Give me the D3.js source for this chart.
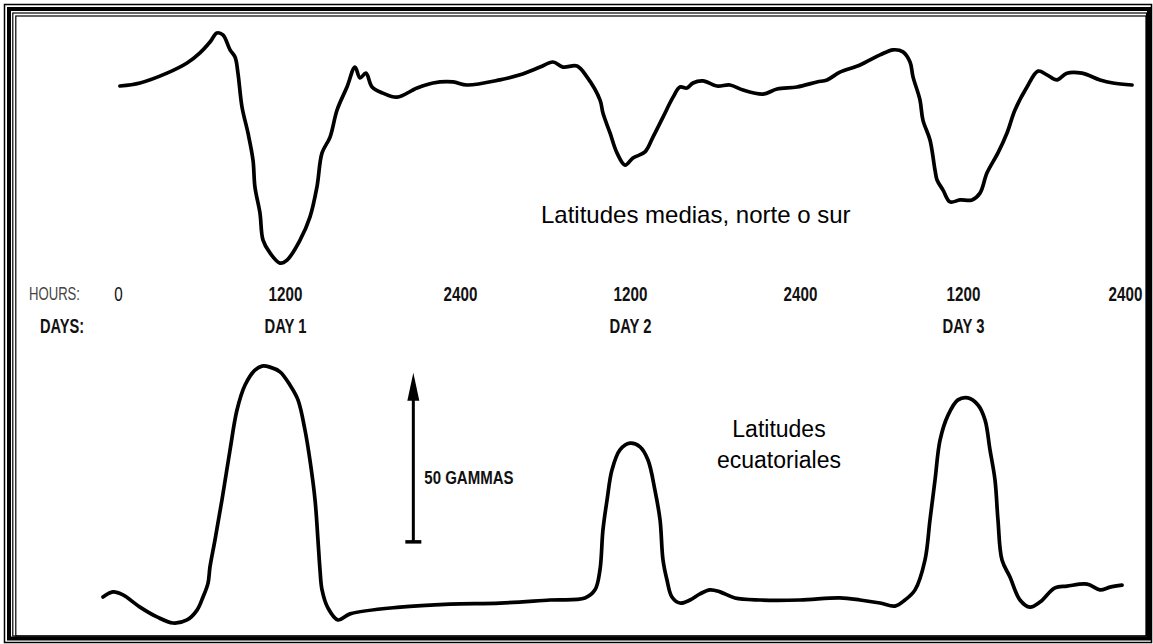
<!DOCTYPE html>
<html>
<head>
<meta charset="utf-8">
<script src="https://cdn.jsdelivr.net/npm/d3@7"></script>
<style>
  html, body { margin: 0; padding: 0; background: #fff; }
  svg { display: block; }
  text { font-family: "Liberation Sans", Arial, sans-serif; }
</style>
</head>
<body>
<svg id="chart" width="1153" height="644"></svg>
<script>
// Time axis: hours since the start of the record, labelled as clock time
const hourTicks = [0, 12, 24, 36, 48, 60, 72];
const hourLabels = ["0", "1200", "2400", "1200", "2400", "1200", "2400"];
const dayHours = [12, 36, 60];
const dayLabels = ["DAY 1", "DAY 2", "DAY 3"];

// Mid-latitude record (north or south): hours, deviation in gammas
const midLatHours = [0.14, 1.58, 3.52, 4.96, 5.89, 6.61, 7.11, 7.54, 8.05, 8.41, 8.62, 8.91, 9.34, 9.70, 9.84,
  10.20, 10.42, 10.92, 11.64, 12.14, 13.03, 13.71, 14.19, 14.54, 15.09, 15.57, 16.25, 16.80, 17.14, 17.55,
  17.97, 18.72, 19.68, 21.05, 22.15, 23.52, 24.49, 26.82, 28.24, 29.65, 30.56, 31.27, 32.26, 32.96, 33.88,
  34.09, 34.59, 35.08, 35.65, 36.21, 37.06, 37.62, 38.33, 39.04, 39.53, 40.02, 40.45, 41.15, 42.14, 43.06,
  43.98, 45.39, 46.38, 47.79, 49.25, 49.99, 50.94, 52.42, 53.89, 54.85, 55.58, 56.10, 56.32, 56.83, 57.05,
  57.57, 57.94, 58.09, 58.53, 59.04, 59.78, 60.67, 61.26, 61.78, 62.59, 63.26, 63.85, 64.74, 65.56, 66.22,
  66.96, 67.70, 68.81, 70.15, 71.11, 72.52];
const midLatGammas = [0, 0.9, 3.8, 6.8, 9.8, 13.0, 15.7, 15.1, 10.7, 8.6, 3.8, -6.2, -13.9, -21.9, -29.9,
  -37.6, -45.6, -49.4, -52.4, -51.5, -45.6, -38.8, -29.9, -19.8, -15.1, -7.1, -0.3, 5.6, 2.4, 3.8,
  -0.3, -2.1, -3.3, -0.6, 0.9, 1.2, 0.3, 1.8, 3.3, 5.6, 7.1, 5.6, 5.9, 2.7, -4.1,
  -8.0, -13.9, -19.8, -23.4, -21.3, -19.5, -15.1, -9.2, -3.3, -0.3, -0.6, 0.9, 1.5, 0, 0.3,
  -1.2, -2.4, -0.9, -0.3, 1.2, 1.8, 4.1, 6.2, 9.2, 10.7, 10.1, 7.1, 2.7, -4.1, -10.1,
  -16.0, -24.9, -27.8, -30.8, -34.3, -33.7, -33.7, -31.7, -25.7, -19.8, -13.9, -7.1, -0.3, 4.4, 3.3,
  1.8, 3.8, 3.8, 1.8, 0.9, 0.3];

// Equatorial record: hours, deviation in gammas
const eqHours = [-1.08, -0.36, 0.36, 1.58, 2.80, 3.95, 4.96, 5.68, 6.11, 6.47, 6.61, 6.97, 7.47, 8.05, 8.55,
  9.13, 9.84, 10.35, 10.92, 11.64, 12.34, 12.89, 13.37, 13.71, 14.06, 14.26, 14.40, 14.54, 14.95, 15.63,
  16.46, 19.89, 23.31, 26.82, 30.35, 32.82, 33.53, 33.88, 34.09, 34.38, 34.73, 35.29, 36.00, 36.71, 37.27,
  37.76, 38.12, 38.33, 38.61, 38.96, 39.53, 40.24, 40.94, 41.65, 42.35, 43.41, 45.18, 48.00, 50.94, 52.42,
  53.89, 54.99, 55.73, 56.47, 57.20, 57.57, 57.94, 58.31, 58.90, 59.63, 60.37, 61.11, 61.63, 62.00, 62.37,
  62.59, 62.89, 63.48, 64.22, 64.96, 65.70, 66.81, 67.70, 69.19, 70.15, 70.89, 71.78];
const eqGammas = [0.9, 2.4, 1.5, -2.1, -5.0, -6.8, -5.9, -3.0, 0.9, 5.0, 9.8, 17.8, 29.6, 44.4, 56.2,
  63.6, 68.0, 69.2, 68.9, 67.5, 63.6, 59.2, 50.3, 41.4, 29.6, 17.8, 8.9, 3.0, -2.4, -5.9,
  -4.1, -2.1, -1.2, -0.9, 0, 0.6, 3.0, 8.9, 20.7, 29.6, 38.5, 44.4, 46.4, 45.3, 41.4,
  32.5, 23.7, 11.8, 5.9, 0.9, -0.9, 0, 1.8, 3.0, 2.4, 0.6, 0, 0, 0.6, 0,
  -0.9, -1.8, 0, 3.0, 11.8, 23.7, 35.5, 47.3, 54.7, 59.2, 59.8, 57.7, 53.3, 44.4, 35.5,
  23.7, 11.8, 6.8, 0, -2.1, -0.6, 3.6, 4.1, 4.7, 3.0, 3.8, 4.4];

// Vertical scale bar
const scaleBarHour = 20.8;
const scaleBarBase = 17.2;
const scaleBarGammas = 50;
const scaleBarLabel = "50 GAMMAS";

const midLatTitle = "Latitudes medias, norte o sur";
const eqTitle = ["Latitudes", "ecuatoriales"];

const svg = d3.select("#chart");

// Page border: thin / thick / thin / thin rules
const rules = [
  { x0: 4.5, y0: 4.5, x1: 1151.5, y1: 642.5, w: 1.5 },
  { x0: 9, y0: 9, x1: 1149, y1: 638.5, w: 4 },
  { x0: 12.8, y0: 13, x1: 1146.5, y1: 636, w: 1.2 },
  { x0: 15.8, y0: 16, x1: 1146, y1: 636, w: 1.2 }
];
svg.selectAll("rect.rule").data(rules).join("rect")
  .attr("class", "rule")
  .attr("x", d => d.x0).attr("y", d => d.y0)
  .attr("width", d => d.x1 - d.x0).attr("height", d => d.y1 - d.y0)
  .attr("fill", "none").attr("stroke", "#000").attr("stroke-width", d => d.w);

// Scales
const x = d3.scaleLinear().domain(hourTicks).range([118, 285, 460, 630, 800, 963, 1125]);
const pxPerGamma = 3.38;
const yMid = d3.scaleLinear().domain([0, -50]).range([86, 86 + 50 * pxPerGamma]);
const yEq = d3.scaleLinear().domain([0, 50]).range([600, 600 - 50 * pxPerGamma]);

const line = (ys) => d3.line()
  .x(d => x(d[0]))
  .y(d => ys(d[1]))
  .curve(d3.curveCatmullRom.alpha(0.5));

const midData = midLatHours.map((h, i) => [h, midLatGammas[i]]);
const eqData = eqHours.map((h, i) => [h, eqGammas[i]]);

[[midData, yMid], [eqData, yEq]].forEach(([data, ys]) => {
  svg.append("path").datum(data)
    .attr("d", line(ys))
    .attr("fill", "none").attr("stroke", "#000")
    .attr("stroke-width", 3.7).attr("stroke-linejoin", "round").attr("stroke-linecap", "round");
});

// Time axis labels (no axis line, just the label rows)
const hourAxis = d3.axisBottom(x).tickValues(hourTicks)
  .tickFormat((d, i) => hourLabels[i]).tickSize(0).tickPadding(0);
const gHours = svg.append("g").attr("transform", "translate(0,287)").call(hourAxis);
gHours.select(".domain").remove();
gHours.selectAll("text")
  .attr("class", "narrow").attr("data-squeeze", 0.76).attr("font-size", 20)
  .attr("font-weight", (d, i) => i === 0 ? "normal" : "bold")
  .attr("fill", "#111").attr("dy", "0.71em").attr("y", 0);

const dayAxis = d3.axisBottom(x).tickValues(dayHours)
  .tickFormat((d, i) => dayLabels[i]).tickSize(0).tickPadding(0);
const gDays = svg.append("g").attr("transform", "translate(0,319)").call(dayAxis);
gDays.select(".domain").remove();
gDays.selectAll("text")
  .attr("class", "narrow").attr("data-squeeze", 0.74).attr("font-size", 20).attr("font-weight", "bold")
  .attr("fill", "#111").attr("dy", "0.71em").attr("y", 0);

svg.append("text").attr("class", "narrow").attr("data-squeeze", 0.69)
  .attr("x", 29).attr("y", 300)
  .attr("font-size", 19).attr("fill", "#444")
  .text("HOURS:");
svg.append("text").attr("class", "narrow").attr("data-squeeze", 0.73)
  .attr("x", 40).attr("y", 333)
  .attr("font-size", 20).attr("font-weight", "bold").attr("fill", "#111")
  .text("DAYS:");

// Scale bar arrow
const bx = x(scaleBarHour);
const yb0 = yEq(scaleBarBase), yb1 = yEq(scaleBarBase + scaleBarGammas);
svg.append("line")
  .attr("x1", bx).attr("x2", bx).attr("y1", yb0).attr("y2", yb1 + 20)
  .attr("stroke", "#000").attr("stroke-width", 3);
svg.append("line")
  .attr("x1", bx - 8).attr("x2", bx + 8).attr("y1", yb0).attr("y2", yb0)
  .attr("stroke", "#000").attr("stroke-width", 3.5);
svg.append("path")
  .attr("d", `M${bx},${yb1} L${bx - 6},${yb1 + 28} L${bx + 6},${yb1 + 28} Z`)
  .attr("fill", "#000");
svg.append("text").attr("class", "narrow").attr("data-squeeze", 0.79)
  .attr("x", bx + 11).attr("y", 484)
  .attr("font-size", 19).attr("font-weight", "bold").attr("fill", "#111")
  .text(scaleBarLabel);

// Condensed lettering: squeeze the regular face horizontally
svg.selectAll("text.narrow").each(function () {
  const w = this.getComputedTextLength();
  const k = +this.getAttribute("data-squeeze");
  d3.select(this).attr("textLength", w * k).attr("lengthAdjust", "spacingAndGlyphs");
});

// Panel titles
svg.append("text")
  .attr("x", 541).attr("y", 223)
  .attr("font-size", 24).attr("fill", "#000")
  .text(midLatTitle);
svg.selectAll("text.eq").data(eqTitle).join("text")
  .attr("class", "eq")
  .attr("x", 779).attr("y", (d, i) => 437 + i * 31)
  .attr("text-anchor", "middle")
  .attr("font-size", 23).attr("fill", "#000")
  .text(d => d);
</script>
</body>
</html>
